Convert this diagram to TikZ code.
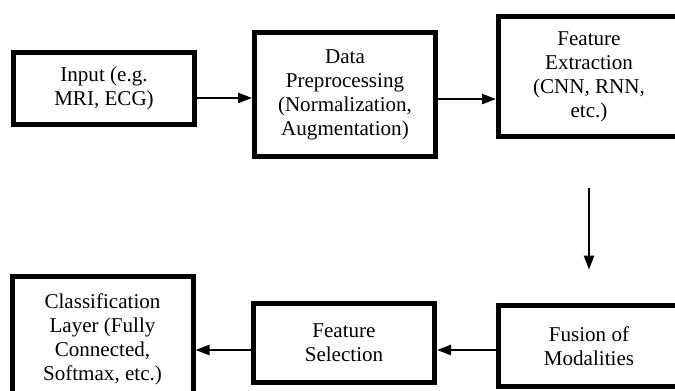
\documentclass[tikz,border=0pt]{standalone}
\usepackage{fontspec}
\setmainfont{Liberation Serif}
\usetikzlibrary{arrows.meta}
\tikzset{b/.style={draw,line width=3.75pt,align=center,inner sep=0pt,minimum width=135.75pt,font=\fontsize{15.8}{18}\selectfont}}
\tikzset{a/.style={-{Triangle[length=10.5pt,width=7.5pt]},line width=1.8pt}}

\begin{document}
\begin{tikzpicture}[x=0.75pt,y=-0.75pt]
            \clip (0,0) rectangle (675,390);
            \fill[white] (0,0) rectangle (675,390);
            \node[b,minimum height=54pt] (In) at (104,88.5) {Input (e.g.\\MRI, ECG)};
            \node[b,minimum height=93pt] (Pre) at (345,94.5) {Data\\Preprocessing\\(Normalization,\\Augmentation)};
            \node[b,minimum height=90pt] (Ext) at (589,76.5) {Feature\\Extraction\\(CNN, RNN,\\etc.)};
            \node[b,minimum height=60.75pt] (Fus) at (589,346) {Fusion of\\Modalities};
            \node[b,minimum height=59.25pt] (Sel) at (344,343) {Feature\\Selection};
            \node[b,minimum height=93.75pt] (Cls) at (102.5,339) {Classification\\Layer (Fully\\Connected,\\Softmax, etc.)};
            \draw[a] ([yshift=-7.1pt]In.east) -- ([yshift=-7.1pt]In.east -| Pre.west);
            \draw[a] ([yshift=-3.4pt]Pre.east) -- ([yshift=-3.4pt]Pre.east -| Ext.west);
            \draw[a,shorten <=36.4pt,shorten >=25pt] (Ext.south) -- (Fus.north);
            \draw[a] ([yshift=-3pt]Fus.west) -- ([yshift=-3pt]Fus.west -| Sel.east);
            \draw[a] ([yshift=-5.25pt]Sel.west) -- ([yshift=-5.25pt]Sel.west -| Cls.east);
          \end{tikzpicture}
\end{document}
